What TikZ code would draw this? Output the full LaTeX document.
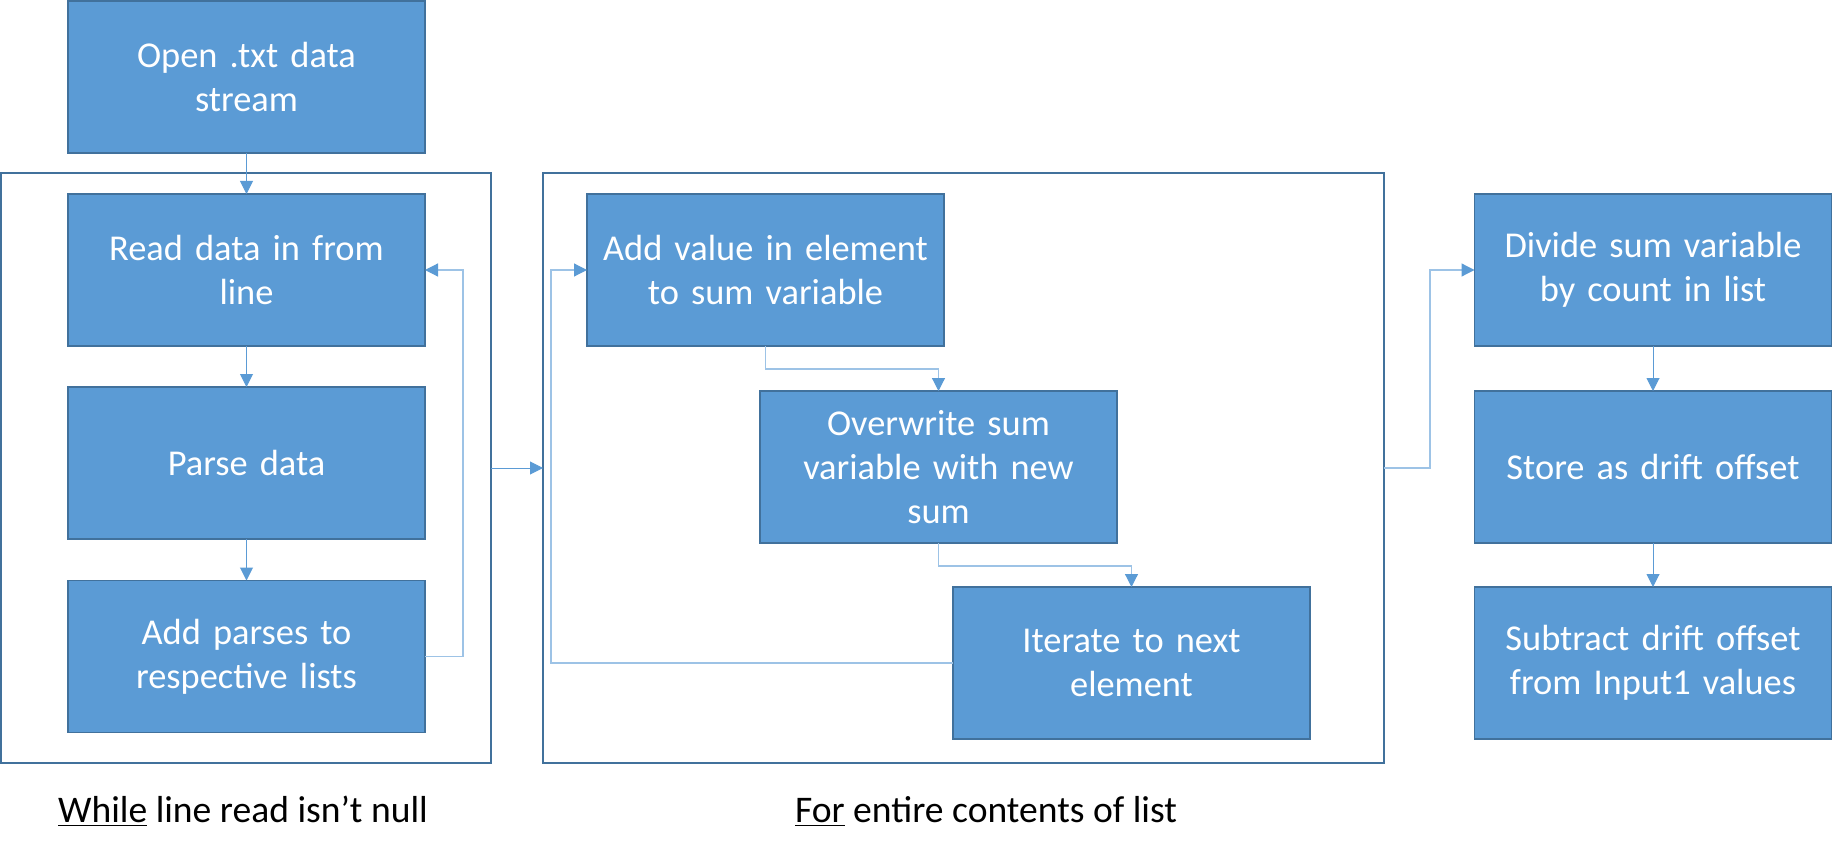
\documentclass[tikz,border=0pt]{standalone}
\usepackage{fontspec}
\setmainfont{Carlito}
\usetikzlibrary{arrows.meta}
\definecolor{boxfill}{HTML}{5B9BD5}
\definecolor{boxline}{HTML}{41719C}
\definecolor{conn}{HTML}{5B9BD5}
\definecolor{connlight}{HTML}{9DC3E6}
\tikzset{
  stepbox/.style={draw=boxline, line width=0.75pt, fill=boxfill, text=white,
    minimum width=178.5pt, minimum height=76pt, inner sep=0pt, outer sep=0pt,
    align=center, text width=172pt, font=\fontsize{18.2}{22}\selectfont},
  framebox/.style={draw=boxline, line width=1pt, fill=none, inner sep=0pt, outer sep=0pt,
    minimum height=295pt},
  conarrow/.style={draw=conn, line width=0.5pt, -{Triangle[length=6.5pt,width=6.5pt,color=conn]}},
  elbow/.style={draw=connlight, line width=0.6pt, -{Triangle[length=6.5pt,width=6.5pt,color=conn]}},
  looplabel/.style={font=\fontsize{18.8}{22}\selectfont, text=black, anchor=base, inner sep=0pt}
}
\begin{document}
\begin{tikzpicture}[x=0.5pt,y=-0.5pt]
\useasboundingbox (0,0) rectangle (1833,856);
% frames
\node[framebox, minimum width=245pt] (frame1) at (246,468) {};
\node[framebox, minimum width=420.5pt] (frame2) at (963.5,468) {};
% left column
\node[stepbox] (open) at (246.5,77) {Open .txt data\\stream};
\node[stepbox] (read) at (246.5,270) {Read data in from\\line};
\node[stepbox] (parse) at (246.5,463) {Parse data};
\node[stepbox] (addp) at (246.5,656.5) {Add parses to\\respective lists};
% middle
\node[stepbox] (addv) at (765.5,270) {Add value in element\\to sum variable};
\node[stepbox] (over) at (938.5,467) {Overwrite sum\\variable with new\\sum};
\node[stepbox] (iter) at (1131.5,663) {Iterate to next\\element};
% right
\node[stepbox] (div) at (1653,270) {Divide sum variable\\by count in list};
\node[stepbox] (store) at (1653,467) {Store as drift offset};
\node[stepbox] (sub) at (1653,663) {Subtract drift offset\\from Input1 values};
% labels
\node[looplabel] (lab1) at (243,822) {\underline{While} line read isn’t null};
\node[looplabel] (lab2) at (986,822) {\underline{For} entire contents of list};
% connectors
\draw[conarrow] (open) -- (read);
\draw[conarrow] (read) -- (parse);
\draw[conarrow] (parse) -- (addp);
\draw[elbow] (addp.east) -- ++(38,0) |- (read.east);
\draw[conarrow] (frame1.east) -- (frame2.west);
\draw[elbow] (addv.south) -- ++(0,23) -| (over.north);
\draw[elbow] (over.south) -- ++(0,23) -| (iter.north);
\draw[elbow] (iter.west) -- ++(-402,0) |- (addv.west);
\draw[elbow] (frame2.east) -- ++(46,0) |- (div.west);
\draw[conarrow] (div) -- (store);
\draw[conarrow] (store) -- (sub);
\end{tikzpicture}
\end{document}
